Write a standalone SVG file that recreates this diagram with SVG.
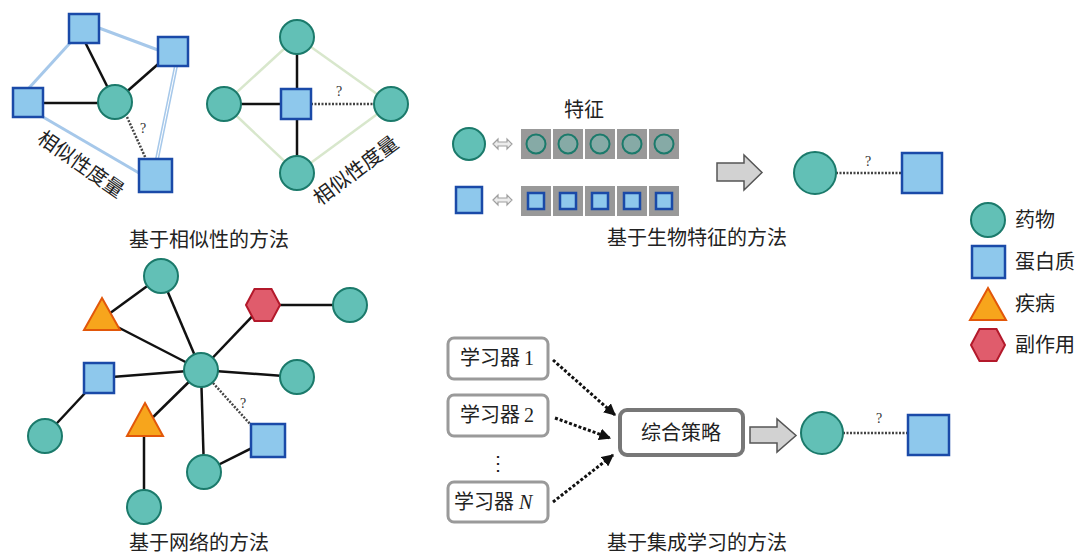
<svg xmlns="http://www.w3.org/2000/svg" width="1078" height="554" viewBox="0 0 1078 554">
<defs>
<style>
.drug{fill:#62c0b6;stroke:#1b7a6b;stroke-width:2}
.fdrug{fill:#86aaa6;stroke:#1b7a6b;stroke-width:2}
.prot{fill:#8ec8ec;stroke:#1a4aa8;stroke-width:2.5}
.dis{fill:#f7a51c;stroke:#e2570a;stroke-width:2}
.se{fill:#e05c6c;stroke:#b3192b;stroke-width:2}
.edge{stroke:#111;stroke-width:2.5;fill:none}
.dot{stroke:#444;stroke-width:2.5;stroke-dasharray:2 1.5;fill:none}
.sim{stroke:#a6c8ea;stroke-width:3;fill:none}
.simg{stroke:#d8e7cc;stroke-width:2.5;fill:none}
.t{font-family:"Liberation Serif","Noto Sans CJK SC",serif;fill:#222}
.cap{font-size:20px;text-anchor:middle}
.q{font-size:14px;text-anchor:middle;fill:#333}
.feat{fill:#999}
.bigarrow{fill:#d2d2d2;stroke:#555;stroke-width:1.5}
.dbl{fill:#ececec;stroke:#a0a0a0;stroke-width:1.2}
.lbox{fill:#fff;stroke:#9a9a9a;stroke-width:3}
.darr{stroke:#111;stroke-width:3;stroke-dasharray:3 2;fill:none}
</style>
<marker id="ah" viewBox="0 0 10 10" refX="9" refY="5" markerWidth="4" markerHeight="4" orient="auto" markerUnits="strokeWidth">
<path d="M0,0 L10,5 L0,10 z" fill="#111"/>
</marker>
</defs>
<rect width="1078" height="554" fill="#fff"/>

<!-- Connectors -->
<g id="connectors">
  <!-- similarity cluster 1 -->
  <line class="sim" x1="70" y1="43" x2="29" y2="88"/>
  <line class="sim" x1="99" y1="28" x2="158" y2="50"/>
  <line x1="176" y1="66" x2="157" y2="159" stroke="#a6c8ea" stroke-width="4"/>
  <line x1="176" y1="66" x2="157" y2="159" stroke="#fff" stroke-width="1"/>
  <line class="sim" x1="43" y1="117" x2="139" y2="173"/>
  <line class="edge" x1="84" y1="40" x2="115" y2="102"/>
  <line class="edge" x1="173" y1="51" x2="115" y2="102"/>
  <line class="edge" x1="28" y1="103" x2="115" y2="103"/>
  <line class="dot" x1="127" y1="117" x2="146" y2="159"/>
  <!-- similarity cluster 2 -->
  <line class="simg" x1="297" y1="37" x2="224" y2="104"/>
  <line class="simg" x1="297" y1="37" x2="391" y2="104"/>
  <line class="simg" x1="224" y1="104" x2="297" y2="173"/>
  <line class="simg" x1="391" y1="104" x2="297" y2="173"/>
  <line class="edge" x1="297" y1="37" x2="297" y2="173"/>
  <line class="edge" x1="224" y1="104" x2="296" y2="104"/>
  <line class="dot" x1="311" y1="104" x2="375" y2="104"/>
  <!-- features result -->
  <line class="dot" x1="836" y1="173" x2="902" y2="173"/>
  <!-- network -->
  <line class="edge" x1="201" y1="370" x2="161" y2="276"/>
  <line class="edge" x1="201" y1="370" x2="102" y2="319"/>
  <line class="edge" x1="161" y1="276" x2="102" y2="319"/>
  <line class="edge" x1="201" y1="370" x2="263" y2="305"/>
  <line class="edge" x1="263" y1="305" x2="350" y2="305"/>
  <line class="edge" x1="201" y1="370" x2="297" y2="377"/>
  <line class="edge" x1="201" y1="370" x2="99" y2="378"/>
  <line class="edge" x1="99" y1="378" x2="45" y2="436"/>
  <line class="edge" x1="201" y1="370" x2="145" y2="425"/>
  <line class="edge" x1="144" y1="425" x2="144" y2="507"/>
  <line class="edge" x1="201" y1="370" x2="204" y2="472"/>
  <line class="edge" x1="204" y1="472" x2="268" y2="440"/>
  <line class="dot" x1="213" y1="383" x2="251" y2="425"/>
  <!-- ensemble -->
  <line class="darr" x1="553" y1="360" x2="615" y2="415" marker-end="url(#ah)"/>
  <line class="darr" x1="555" y1="418" x2="610" y2="438" marker-end="url(#ah)"/>
  <line class="darr" x1="553" y1="502" x2="613" y2="455" marker-end="url(#ah)"/>
  <line class="dot" x1="843" y1="433" x2="908" y2="433"/>
</g>

<!-- Similarity cluster 1 -->
<g id="sim1-nodes">
  <rect id="s1-top" class="prot" x="69" y="14" width="30" height="29"/>
  <rect id="s1-right" class="prot" x="158" y="37" width="30" height="29"/>
  <rect id="s1-left" class="prot" x="13" y="88" width="30" height="29"/>
  <rect id="s1-bottom" class="prot" x="139" y="159" width="33" height="33"/>
  <circle id="s1-drug" class="drug" cx="115" cy="102" r="17"/>
  <text class="t q" x="143" y="133">?</text>
  <text class="t" font-size="20" text-anchor="middle" transform="translate(77,170) rotate(35)">相似性度量</text>
</g>

<!-- Similarity cluster 2 -->
<g id="sim2-nodes">
  <circle id="s2-top" class="drug" cx="297" cy="37" r="17"/>
  <circle id="s2-left" class="drug" cx="224" cy="104" r="17"/>
  <circle id="s2-right" class="drug" cx="391" cy="104" r="17"/>
  <circle id="s2-bottom" class="drug" cx="297" cy="173" r="17"/>
  <rect id="s2-prot" class="prot" x="281" y="89" width="30" height="30"/>
  <text class="t q" x="339" y="96">?</text>
  <text class="t" font-size="20" text-anchor="middle" transform="translate(360,176) rotate(-37)">相似性度量</text>
</g>
<text class="t cap" x="209" y="247">基于相似性的方法</text>

<!-- Feature panel -->
<g id="features">
  <text class="t cap" x="584" y="117">特征</text>
  <circle class="drug" cx="469" cy="144" r="16"/>
  <polygon class="dbl" points="493,144 498,139 498,142 507,142 507,139 512,144 507,149 507,146 498,146 498,149"/>
  <rect class="prot" x="456" y="187" width="26" height="26"/>
  <polygon class="dbl" points="493,200 498,195 498,198 507,198 507,195 512,200 507,205 507,202 498,202 498,205"/>
  <g id="drug-features">
    <rect class="feat" x="521" y="129" width="30" height="30"/><circle class="fdrug" cx="536" cy="144" r="9.5"/>
    <rect class="feat" x="553" y="129" width="30" height="30"/><circle class="fdrug" cx="568" cy="144" r="9.5"/>
    <rect class="feat" x="585" y="129" width="30" height="30"/><circle class="fdrug" cx="600" cy="144" r="9.5"/>
    <rect class="feat" x="617" y="129" width="30" height="30"/><circle class="fdrug" cx="632" cy="144" r="9.5"/>
    <rect class="feat" x="649" y="129" width="30" height="30"/><circle class="fdrug" cx="664" cy="144" r="9.5"/>
  </g>
  <g id="protein-features">
    <rect class="feat" x="521" y="186" width="30" height="30"/><rect class="prot" x="528" y="193" width="16" height="16"/>
    <rect class="feat" x="553" y="186" width="30" height="30"/><rect class="prot" x="560" y="193" width="16" height="16"/>
    <rect class="feat" x="585" y="186" width="30" height="30"/><rect class="prot" x="592" y="193" width="16" height="16"/>
    <rect class="feat" x="617" y="186" width="30" height="30"/><rect class="prot" x="624" y="193" width="16" height="16"/>
    <rect class="feat" x="649" y="186" width="30" height="30"/><rect class="prot" x="656" y="193" width="16" height="16"/>
  </g>
  <polygon class="bigarrow" points="717,163 744,163 744,155 762,172.5 744,190 744,181 717,181"/>
  <circle id="f-drug" class="drug" cx="815" cy="173" r="21"/>
  <rect id="f-prot" class="prot" x="902" y="153" width="40" height="40"/>
  <text class="t q" x="868" y="166">?</text>
</g>
<text class="t cap" x="697" y="245">基于生物特征的方法</text>

<!-- Legend -->
<g id="legend">
  <circle class="drug" cx="988" cy="220" r="17"/>
  <text class="t" font-size="20" x="1015" y="227">药物</text>
  <rect class="prot" x="972" y="246" width="33" height="32"/>
  <text class="t" font-size="20" x="1015" y="269">蛋白质</text>
  <polygon class="dis" points="988,288 1006,320 970,320"/>
  <text class="t" font-size="20" x="1015" y="311">疾病</text>
  <polygon class="se" points="971,345 979.5,329 996.5,329 1005,345 996.5,361 979.5,361"/>
  <text class="t" font-size="20" x="1015" y="352">副作用</text>
</g>

<!-- Network -->
<g id="network">
  <circle id="n-top" class="drug" cx="161" cy="276" r="17"/>
  <polygon id="n-dis1" class="dis" points="102,298 120,330 84,330"/>
  <polygon id="n-se" class="se" points="246,305 254.5,289 271.5,289 280,305 271.5,321 254.5,321"/>
  <circle id="n-rt" class="drug" cx="350" cy="305" r="17"/>
  <circle id="n-r" class="drug" cx="297" cy="377" r="17"/>
  <rect id="n-ls" class="prot" x="84" y="363" width="30" height="30"/>
  <circle id="n-lb" class="drug" cx="45" cy="436" r="17"/>
  <polygon id="n-dis2" class="dis" points="145,403 163,436 127,436"/>
  <circle id="n-b" class="drug" cx="144" cy="507" r="17"/>
  <circle id="n-bm" class="drug" cx="204" cy="472" r="17"/>
  <rect id="n-rs" class="prot" x="251" y="424" width="34" height="33"/>
  <circle id="n-center" class="drug" cx="201" cy="370" r="17"/>
  <text class="t q" x="243" y="408">?</text>
</g>
<text class="t cap" x="199" y="550">基于网络的方法</text>

<!-- Ensemble -->
<g id="ensemble">
  <g id="learner1"><rect class="lbox" x="448" y="338" width="100" height="41" rx="6"/><text class="t" font-size="20" x="460" y="365">学习器<tspan dx="4">1</tspan></text></g>
  <g id="learner2"><rect class="lbox" x="448" y="395" width="100" height="41" rx="6"/><text class="t" font-size="20" x="460" y="422">学习器<tspan dx="4">2</tspan></text></g>
  <text class="t" font-size="20" x="498" y="470" text-anchor="middle">⋮</text>
  <g id="learnerN"><rect class="lbox" x="448" y="482" width="100" height="40" rx="6"/><text class="t" font-size="20" x="454" y="509">学习器<tspan dx="5" font-style="italic">N</tspan></text></g>
  <g id="strategy"><rect x="620" y="410" width="123" height="45" rx="7" fill="#fff" stroke="#777" stroke-width="4"/><text class="t cap" x="681" y="440">综合策略</text></g>
  <polygon class="bigarrow" points="750,427 777,427 777,419 796,435.5 777,452 777,443 750,443"/>
  <circle id="e-drug" class="drug" cx="822" cy="433" r="21"/>
  <rect id="e-prot" class="prot" x="908" y="415" width="41" height="40"/>
  <text class="t q" x="879" y="423">?</text>
</g>
<text class="t cap" x="697" y="550">基于集成学习的方法</text>
</svg>
